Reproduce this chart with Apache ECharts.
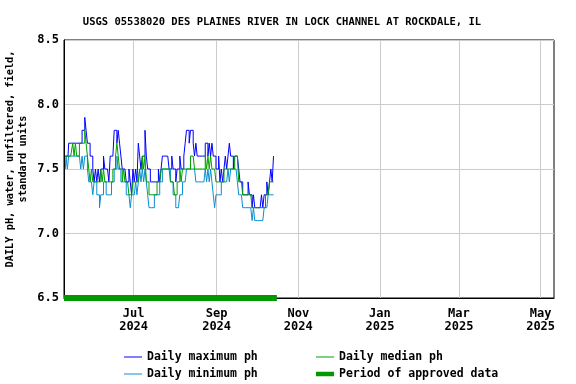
<!DOCTYPE html>
<html>
<head>
<meta charset="utf-8">
<script src="https://cdn.jsdelivr.net/npm/echarts@6/dist/echarts.min.js"></script>
<style>html,body{margin:0;padding:0;background:#fff}#c{width:576px;height:384px}</style>
</head>
<body>
<div id="c"></div>
<script>
var startDate = '2024-05-11';
var dailyMax = [
7.6,7.6,7.6,7.7,7.7, 7.7,7.7,7.7,7.7,7.7, 7.7,7.7,7.7,7.8,7.8, 7.9,7.8,7.7,7.7,7.6,
7.6,7.5,7.4,7.5,7.4, 7.5,7.4,7.5,7.5,7.6, 7.5,7.5,7.5,7.4,7.6, 7.6,7.6,7.8,7.8,7.7,
7.8,7.7,7.6,7.5,7.5, 7.5,7.4,7.4,7.5,7.4, 7.3,7.5,7.4,7.5,7.4, 7.7,7.6,7.5,7.6,7.6,
7.8,7.6,7.5,7.5,7.4, 7.4,7.4,7.4,7.4,7.4, 7.5,7.4,7.5,7.6,7.6, 7.6,7.6,7.6,7.5,7.5,
7.6,7.5,7.5,7.4,7.5, 7.5,7.6,7.5,7.5,7.6, 7.7,7.8,7.8,7.7,7.8, 7.8,7.7,7.6,7.7,7.6,
7.6,7.6,7.6,7.6,7.6, 7.7,7.7,7.6,7.7,7.6, 7.7,7.6,7.6,7.5,7.5, 7.6,7.4,7.5,7.4,7.5,
7.6,7.5,7.6,7.7,7.6, 7.6,7.5,7.6,7.6,7.6, 7.5,7.4,7.4,7.3,7.3, 7.3,7.3,7.4,7.3,7.3,
7.2,7.3,7.2,7.2,7.2, 7.2,7.2,7.3,7.2,7.3, 7.3,7.4,7.3,7.4,7.5, 7.4,7.6
];
var dailyMedian = [
7.6,7.6,7.6,7.6,7.6, 7.6,7.7,7.6,7.7,7.6, 7.6,7.7,7.7,7.7,7.7, 7.8,7.7,7.6,7.5,7.4,
7.5,7.4,7.4,7.4,7.4, 7.4,7.4,7.5,7.4,7.5, 7.4,7.4,7.4,7.4,7.4, 7.4,7.5,7.5,7.6,7.7,
7.6,7.5,7.5,7.4,7.5, 7.4,7.4,7.4,7.3,7.3, 7.3,7.4,7.4,7.4,7.4, 7.4,7.5,7.5,7.6,7.5,
7.6,7.4,7.4,7.3,7.3, 7.3,7.3,7.3,7.3,7.4, 7.4,7.4,7.5,7.5,7.5, 7.5,7.5,7.5,7.5,7.4,
7.4,7.4,7.3,7.3,7.4, 7.4,7.5,7.4,7.5,7.5, 7.5,7.5,7.5,7.5,7.6, 7.6,7.6,7.5,7.5,7.5,
7.5,7.5,7.5,7.5,7.5, 7.6,7.5,7.6,7.5,7.6, 7.5,7.5,7.5,7.4,7.4, 7.4,7.4,7.4,7.4,7.5,
7.5,7.5,7.5,7.5,7.5, 7.5,7.5,7.6,7.6,7.6, 7.4,7.4,7.4,7.3,7.3, 7.3,7.3,7.3,7.3,7.3,
7.2,7.2,7.2,7.2,7.2, 7.2,7.2,7.2,7.2,7.2, 7.3,7.3,7.3,7.4,7.4, 7.4,7.4
];
var dailyMin = [
7.5,7.6,7.5,7.6,7.6, 7.6,7.6,7.6,7.6,7.6, 7.6,7.6,7.5,7.6,7.5, 7.6,7.6,7.5,7.4,7.4,
7.4,7.3,7.4,7.4,7.3, 7.3,7.2,7.3,7.3,7.4, 7.4,7.3,7.3,7.3,7.3, 7.4,7.4,7.5,7.5,7.6,
7.5,7.5,7.4,7.4,7.4, 7.4,7.3,7.3,7.3,7.2, 7.3,7.3,7.3,7.4,7.3, 7.4,7.5,7.4,7.5,7.4,
7.5,7.4,7.3,7.2,7.2, 7.2,7.2,7.3,7.3,7.3, 7.3,7.4,7.4,7.5,7.5, 7.5,7.5,7.5,7.5,7.4,
7.4,7.3,7.3,7.2,7.2, 7.2,7.3,7.3,7.4,7.4, 7.4,7.5,7.5,7.5,7.5, 7.5,7.5,7.5,7.4,7.4,
7.4,7.4,7.4,7.4,7.4, 7.5,7.4,7.5,7.4,7.5, 7.4,7.3,7.2,7.3,7.3, 7.3,7.3,7.4,7.4,7.4,
7.4,7.4,7.5,7.4,7.5, 7.5,7.5,7.5,7.5,7.4, 7.3,7.3,7.3,7.2,7.2, 7.2,7.2,7.2,7.2,7.2,
7.1,7.2,7.1,7.1,7.1, 7.1,7.1,7.1,7.1,7.2, 7.2,7.2,7.3,7.3,7.3, 7.3,7.3
];
var approvedPeriod = ['2024-05-10', '2024-10-16'];
var tickDates = ['2024-07-01','2024-09-01','2024-11-01','2025-01-01','2025-03-01','2025-05-01'];
var tickLabels = ['Jul\n2024','Sep\n2024','Nov\n2024','Jan\n2025','Mar\n2025','May\n2025'];

function parseD(s){ var p = s.split('-'); return Date.UTC(+p[0], +p[1]-1, +p[2]); }
var t0 = parseD(startDate), DAY = 86400000;
function mk(arr){ return arr.map(function(v,i){ return [t0 + i*DAY, v]; }); }
var tickTs = tickDates.map(parseD);
var labelMap = {}; tickTs.forEach(function(t,i){ labelMap[t] = tickLabels[i]; });

var font = 'DejaVu Sans Mono';
var thin = 'path://M0,6.5 L18,6.5 L18,7.5 L0,7.5 Z';
var thick = 'path://M0,5 L18,5 L18,9.5 L0,9.5 Z';
function leg(name, icon, left, top){
  return {
    left: left, top: top, orient: 'horizontal', itemWidth: 18, itemHeight: 14, itemGap: 0, padding: 0,
    data: [{name: name, icon: icon}], selectedMode: false,
    textStyle: {fontFamily: font, fontSize: 11.5, fontWeight: 'bold', color: '#000'}
  };
}
var chart = echarts.init(document.getElementById('c'), null, {renderer:'canvas'});
chart.setOption({
  animation: false,
  backgroundColor: '#fff',
  title: {
    text: 'USGS 05538020 DES PLAINES RIVER IN LOCK CHANNEL AT ROCKDALE, IL',
    left: 277, top: 12, textAlign: 'center',
    textStyle: {fontFamily: font, fontSize: 10.5, fontWeight: 'bold', color: '#000'}
  },
  grid: {left: 64, right: 22, top: 40, bottom: 86, show: true, borderColor: '#000', borderWidth: 1, backgroundColor: 'transparent'},
  xAxis: {
    type: 'value',
    min: parseD('2024-05-10'), max: parseD('2025-05-11'),
    axisLine: {lineStyle: {color: '#000', width: 1}},
    axisTick: {show: false, customValues: tickTs},
    axisLabel: {
      customValues: tickTs,
      formatter: function(v){ return labelMap[v] || ''; },
      fontFamily: font, fontSize: 12, fontWeight: 'bold', color: '#000',
      lineHeight: 13, margin: 9, hideOverlap: false
    },
    splitLine: {show: true, lineStyle: {color: '#cccccc', width: 1}}
  },
  yAxis: {
    type: 'value', min: 6.5, max: 8.5, interval: 0.5,
    axisLine: {show: true, lineStyle: {color: '#000', width: 1}},
    axisTick: {show: false},
    axisLabel: {
      formatter: function(v){ return v.toFixed(1); },
      fontFamily: font, fontSize: 12, fontWeight: 'bold', color: '#000', margin: 5
    },
    splitLine: {show: true, lineStyle: {color: '#cccccc', width: 1}}
  },
  legend: [
    leg('Daily maximum ph', thin, 124, 351),
    leg('Daily minimum ph', thin, 124, 368),
    leg('Daily median ph', thin, 316, 351),
    leg('Period of approved data', thick, 316, 368)
  ],
  graphic: [{
    type: 'text', x: 17, y: 159, rotation: Math.PI/2,
    style: {
      text: 'DAILY pH, water, unfiltered, field,\nstandard units',
      fontFamily: font, fontSize: 10.3, fontWeight: 'bold', fill: '#000',
      align: 'center', verticalAlign: 'middle', lineHeight: 13
    }
  }],
  series: [
    {name: 'Daily maximum ph', type: 'line', step: 'middle', symbol: 'none', data: mk(dailyMax),
     itemStyle: {color: '#0000ff'}, lineStyle: {color: '#0000ff', width: 1}, z: 3},
    {name: 'Daily minimum ph', type: 'line', step: 'middle', symbol: 'none', data: mk(dailyMin),
     itemStyle: {color: '#0a8fd2'}, lineStyle: {color: '#0a8fd2', width: 1}, z: 4},
    {name: 'Daily median ph', type: 'line', step: 'middle', symbol: 'none', data: mk(dailyMedian),
     itemStyle: {color: '#00a000'}, lineStyle: {color: '#00a000', width: 1}, z: 5},
    {name: 'Period of approved data', type: 'line', symbol: 'none',
     data: [[parseD(approvedPeriod[0]), 6.5], [parseD(approvedPeriod[1]), 6.5]],
     itemStyle: {color: '#009900'}, lineStyle: {color: '#009900', width: 6}, z: 6}
  ]
});
</script>
</body>
</html>
